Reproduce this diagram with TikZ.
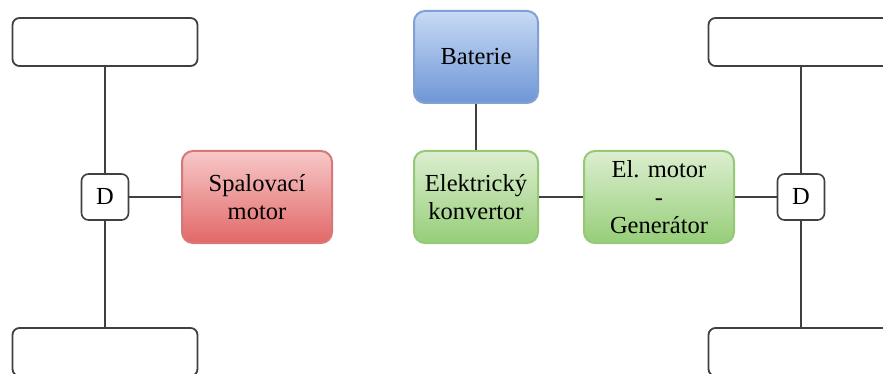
\documentclass[tikz,border=0pt]{standalone}
\usepackage{fontspec}
\setmainfont{Liberation Serif}
\usetikzlibrary{positioning}
\definecolor{axle}{HTML}{404040}
\begin{document}
\begin{tikzpicture} [x=1pt, y=-1pt, font=\fontsize{24.5}{28}\selectfont,
  wheel/.style = {draw=axle, line width=1.8pt, rounded corners=7pt, fill=white, minimum width=185pt, minimum height=48pt},
  diff/.style = {draw=axle, line width=1.6pt, rounded corners=7pt, fill=white, minimum width=47pt, minimum height=46pt, inner sep=0pt},
  unit/.style = {line width=2pt, rounded corners=11pt, minimum width=148pt, minimum height=92pt, align=center, inner sep=2pt},
  redunit/.style = {unit, draw={rgb,255:red,214;green,120;blue,120}, top color={rgb,255:red,247;green,200;blue,200}, bottom color={rgb,255:red,226;green,104;blue,104}},
  blueunit/.style = {unit, draw={rgb,255:red,128;green,160;blue,214}, top color={rgb,255:red,200;green,218;blue,244}, bottom color={rgb,255:red,110;green,150;blue,214}},
  greenunit/.style = {unit, draw={rgb,255:red,150;green,200;blue,120}, top color={rgb,255:red,220;green,238;blue,208}, bottom color={rgb,255:red,150;green,206;blue,120}},
  link/.style = {draw=axle, line width=1.6pt}]
\clip (0,0) rectangle (883,374);
\fill[white] (0,0) rectangle (883,374);
% left axle
\node[wheel] (lw1) at (105,42) {};
\node[wheel] (lw2) at (105,352) {};
\node[diff] (d1) at (105,197) {D};
\node[redunit, minimum width=150pt] (ice) at (257,197) {Spalovací\\motor};
% electric part
\node[blueunit, minimum width=124pt] (bat) at (476,57) {Baterie};
\node[greenunit, minimum width=124pt] (conv) at (476,197) {Elektrický\\konvertor};
\node[greenunit, minimum width=150pt] (emg) at (659,197) {El. motor\\-\\Generátor};
% right axle
\node[diff] (d2) at (801,197) {D};
\node[wheel] (rw1) at (801,42) {};
\node[wheel] (rw2) at (801,352) {};
\draw[link] (lw1.south) -- (d1.north);
\draw[link] (d1.south) -- (lw2.north);
\draw[link] (d1.east) -- (ice.west);
\draw[link] (bat.south) -- (conv.north);
\draw[link] (conv.east) -- (emg.west);
\draw[link] (emg.east) -- (d2.west);
\draw[link] (rw1.south) -- (d2.north);
\draw[link] (d2.south) -- (rw2.north);
\end{tikzpicture}
\end{document}
